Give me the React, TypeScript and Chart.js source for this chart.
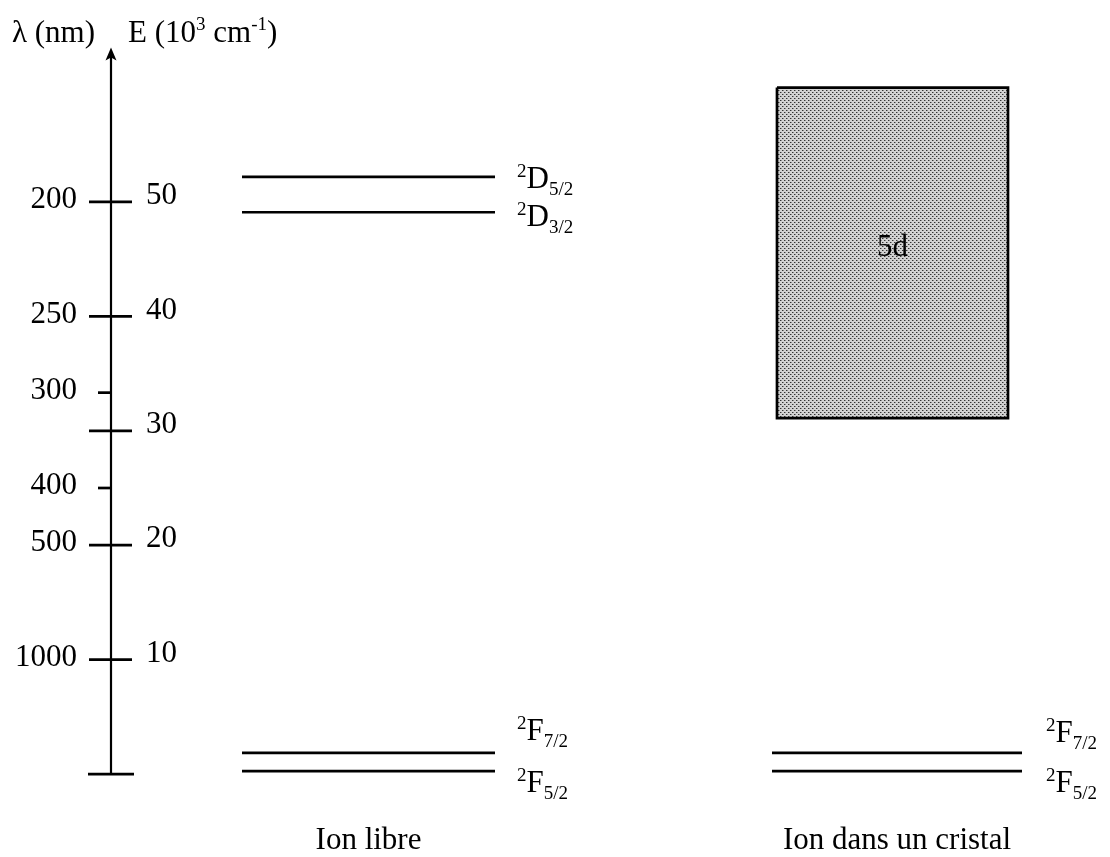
import React, { useEffect, useRef } from "react";
import { Chart, registerables } from "chart.js";

Chart.register(...registerables);

// ---- data (energies in 10^3 cm^-1, wavelengths in nm) ----
const ENERGY_TICKS = [10, 20, 30, 40, 50];
const WAVELENGTH_TICKS = [200, 250, 300, 400, 500, 1000];
const FREE_ION_LEVELS = [0.26, 1.85, 49.1, 52.2];
const FREE_ION_TERMS = ["F", "F", "D", "D"];
const FREE_ION_J = ["5/2", "7/2", "3/2", "5/2"];
const CRYSTAL_LEVELS = [0.26, 1.85];
const CRYSTAL_TERMS = ["F", "F"];
const CRYSTAL_J = ["5/2", "7/2"];
const BAND_5D = [31.1, 60.0];
const BAND_LABEL = "5d";
const GROUP_LABELS = ["Ion libre", "Ion dans un cristal"];
const AXIS_RANGE = [0, 63.5];
const TITLE_LAMBDA = "λ (nm)";

// ---- layout / style ----
const W = 1110;
const H = 857;
const Y_MIN = -7.25;
const Y_MAX = 67.65;
const AXIS_X = 111;
const FREE_X = [242, 495];
const CRYSTAL_X = [772, 1022];
const BAND_X = [777, 1008];
const FREE_LABEL_DY = [10, -23, 3, 1];
const CRYSTAL_LABEL_DY = [10, -21];
const FONT = "'Liberation Serif', 'DejaVu Serif', serif";
const MAIN = 31;
const SMALL = 19;

function makePattern(): CanvasPattern | string {
  const c = document.createElement("canvas");
  c.width = 4;
  c.height = 4;
  const g = c.getContext("2d");
  if (!g) return "#bdbdbd";
  g.fillStyle = "#d2d2d2";
  g.fillRect(0, 0, 4, 4);
  g.fillStyle = "#333333";
  g.fillRect(0, 0, 1, 1);
  g.fillRect(2, 2, 1, 1);
  g.fillStyle = "#8c8c8c";
  g.fillRect(1, 0, 1, 1);
  g.fillRect(3, 2, 1, 1);
  return g.createPattern(c, "repeat") || "#bdbdbd";
}

function drawTerm(ctx: CanvasRenderingContext2D, x: number, yc: number, term: string, j: string) {
  const base = yc + 10.5;
  ctx.textAlign = "left";
  ctx.textBaseline = "alphabetic";
  ctx.font = `${SMALL}px ${FONT}`;
  ctx.fillText("2", x, base - 11);
  const w2 = ctx.measureText("2").width;
  ctx.font = `${MAIN}px ${FONT}`;
  ctx.fillText(term, x + w2, base);
  const wt = ctx.measureText(term).width;
  ctx.font = `${SMALL}px ${FONT}`;
  ctx.fillText(j, x + w2 + wt, base + 7);
}

const levelDataset = (xr: number[], e: number) => ({
  data: [
    { x: xr[0], y: e },
    { x: xr[1], y: e },
  ],
  borderColor: "#000",
  borderWidth: 2.7,
  pointRadius: 0,
  fill: false,
  order: 0,
});

export default function App() {
  const ref = useRef<HTMLCanvasElement | null>(null);

  useEffect(() => {
    document.body.style.margin = "0";
    const canvas = ref.current;
    if (!canvas) return;

    const textPlugin = {
      id: "diagramText",
      afterDraw(chart: any) {
        const ctx: CanvasRenderingContext2D = chart.ctx;
        const xs = chart.scales.x;
        const ys = chart.scales.y;
        const py = (v: number) => ys.getPixelForValue(v);
        const px = (v: number) => xs.getPixelForValue(v);
        ctx.save();
        ctx.fillStyle = "#000";
        ctx.strokeStyle = "#000";

        // vertical axis with arrow
        const yBot = py(AXIS_RANGE[0]);
        const yTop = py(AXIS_RANGE[1]);
        ctx.lineWidth = 2.2;
        ctx.beginPath();
        ctx.moveTo(px(AXIS_X), yBot);
        ctx.lineTo(px(AXIS_X), yTop + 8);
        ctx.stroke();
        ctx.beginPath();
        ctx.moveTo(px(AXIS_X), yTop);
        ctx.lineTo(px(AXIS_X) - 5.5, yTop + 13);
        ctx.lineTo(px(AXIS_X), yTop + 10);
        ctx.lineTo(px(AXIS_X) + 5.5, yTop + 13);
        ctx.closePath();
        ctx.fill();

        // bottom tick (E = 0)
        ctx.lineWidth = 2.7;
        ctx.beginPath();
        ctx.moveTo(px(AXIS_X) - 23, yBot);
        ctx.lineTo(px(AXIS_X) + 23, yBot);
        ctx.stroke();

        // energy ticks + labels
        ctx.font = `${MAIN}px ${FONT}`;
        ENERGY_TICKS.forEach((e) => {
          const y = py(e);
          ctx.lineWidth = 2.7;
          ctx.beginPath();
          ctx.moveTo(px(AXIS_X) - 22, y);
          ctx.lineTo(px(AXIS_X) + 21, y);
          ctx.stroke();
          ctx.textAlign = "left";
          ctx.textBaseline = "middle";
          ctx.fillText(String(e), px(AXIS_X) + 35, y - 6);
        });

        // wavelength ticks + labels (E = 10^4 / λ in 10^3 cm^-1)
        WAVELENGTH_TICKS.forEach((l) => {
          const e = 10000 / l;
          const y = py(e);
          const onMajor = ENERGY_TICKS.some((t) => Math.abs(t - e) < 0.01);
          if (!onMajor) {
            ctx.lineWidth = 2.7;
            ctx.beginPath();
            ctx.moveTo(px(AXIS_X) - 13, y);
            ctx.lineTo(px(AXIS_X), y);
            ctx.stroke();
          }
          ctx.textAlign = "right";
          ctx.textBaseline = "middle";
          ctx.fillText(String(l), px(AXIS_X) - 34, y - 2);
        });

        // axis title
        ctx.textAlign = "left";
        ctx.textBaseline = "alphabetic";
        ctx.font = `${MAIN}px ${FONT}`;
        ctx.fillText(TITLE_LAMBDA, 12, 42);
        let tx = 128;
        const parts: [string, boolean][] = [
          ["E (10", false],
          ["3", true],
          [" cm", false],
          ["-1", true],
          [")", false],
        ];
        parts.forEach(([s, sup]) => {
          ctx.font = `${sup ? SMALL : MAIN}px ${FONT}`;
          ctx.fillText(s, tx, sup ? 30 : 42);
          tx += ctx.measureText(s).width;
        });

        // level term labels
        FREE_ION_LEVELS.forEach((e, i) => {
          drawTerm(ctx, px(FREE_X[1]) + 22, py(e) + FREE_LABEL_DY[i], FREE_ION_TERMS[i], FREE_ION_J[i]);
        });
        CRYSTAL_LEVELS.forEach((e, i) => {
          drawTerm(ctx, px(CRYSTAL_X[1]) + 24, py(e) + CRYSTAL_LABEL_DY[i], CRYSTAL_TERMS[i], CRYSTAL_J[i]);
        });

        // band label
        ctx.font = `${MAIN}px ${FONT}`;
        ctx.textAlign = "center";
        ctx.textBaseline = "middle";
        ctx.fillText(BAND_LABEL, px((BAND_X[0] + BAND_X[1]) / 2), py((BAND_5D[0] + BAND_5D[1]) / 2) - 5);

        // group labels
        ctx.textBaseline = "alphabetic";
        ctx.fillText(GROUP_LABELS[0], px((FREE_X[0] + FREE_X[1]) / 2), 849);
        ctx.fillText(GROUP_LABELS[1], px((CRYSTAL_X[0] + CRYSTAL_X[1]) / 2), 849);
        ctx.restore();
      },
    };

    const datasets: any[] = [
      ...FREE_ION_LEVELS.map((e) => levelDataset(FREE_X, e)),
      ...CRYSTAL_LEVELS.map((e) => levelDataset(CRYSTAL_X, e)),
      {
        data: [
          { x: BAND_X[0], y: BAND_5D[1] },
          { x: BAND_X[1], y: BAND_5D[1] },
        ],
        borderWidth: 0,
        borderColor: "rgba(0,0,0,0)",
        backgroundColor: makePattern(),
        pointRadius: 0,
        fill: { value: BAND_5D[0] },
        order: 3,
      },
      {
        data: [
          { x: BAND_X[0], y: BAND_5D[1] },
          { x: BAND_X[1], y: BAND_5D[1] },
          { x: BAND_X[1], y: BAND_5D[0] },
          { x: BAND_X[0], y: BAND_5D[0] },
          { x: BAND_X[0], y: BAND_5D[1] },
        ],
        borderColor: "#000",
        borderWidth: 2.7,
        pointRadius: 0,
        fill: false,
        order: 1,
      },
    ];

    const chart = new Chart(canvas, {
      type: "line",
      data: { datasets },
      options: {
        animation: false,
        responsive: false,
        devicePixelRatio: 1,
        layout: { padding: 0 },
        plugins: { legend: { display: false }, tooltip: { enabled: false } },
        events: [],
        scales: {
          x: { type: "linear", min: 0, max: W, display: false },
          y: { type: "linear", min: Y_MIN, max: Y_MAX, display: false },
        },
      },
      plugins: [textPlugin],
    } as any);

    return () => chart.destroy();
  }, []);

  return (
    <div style={{ position: "fixed", left: 0, top: 0, width: W, height: H, background: "#fff" }}>
      <canvas ref={ref} width={W} height={H} style={{ display: "block", width: W, height: H }} />
    </div>
  );
}
